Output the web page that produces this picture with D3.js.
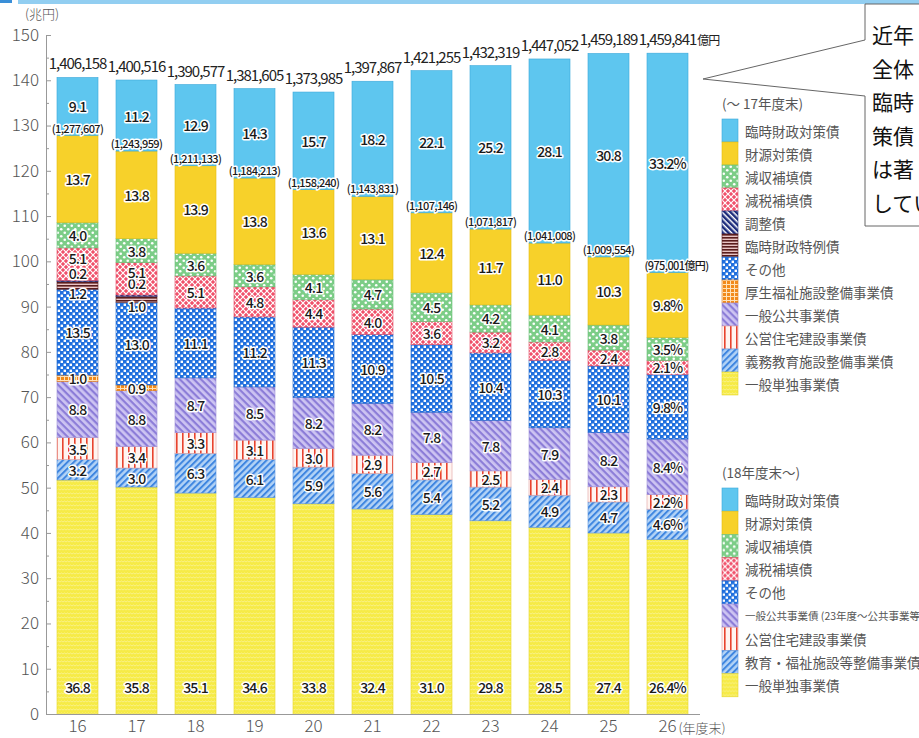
<!DOCTYPE html>
<html>
<head>
<meta charset="utf-8">
<script src="https://cdn.jsdelivr.net/npm/d3@7"></script>
<style>
body { margin: 0; background: #fff; }
svg { display: block; font-family: "Noto Sans CJK JP", "Noto Sans", sans-serif; }
.val { fill: #1a1a1a; stroke: #fff; stroke-width: 3px; stroke-linejoin: round; paint-order: stroke; font-weight: 500; }
.tk text { font-family: "Noto Sans CJK JP", sans-serif; font-weight: 300; fill: #555; font-size: 17px; }
</style>
</head>
<body>
<svg width="919" height="738"></svg>
<script>
// 年度末 (平成)
var years = ["16", "17", "18", "19", "20", "21", "22", "23", "24", "25", "26"];

// 地方債残高 合計 (億円)
var totals = [1406158, 1400516, 1390577, 1381605, 1373985, 1397867, 1421255, 1432319, 1447052, 1459189, 1459841];
// 臨時財政対策債を除いた残高 (億円)
var exclRinzai = [1277607, 1243959, 1211133, 1184213, 1158240, 1143831, 1107146, 1071817, 1041008, 1009554, 975001];

// 構成比 (%)
var tandoku = [36.8, 35.8, 35.1, 34.6, 33.8, 32.4, 31.0, 29.8, 28.5, 27.4, 26.4];
var kyoiku  = [3.2, 3.0, 6.3, 6.1, 5.9, 5.6, 5.4, 5.2, 4.9, 4.7, 4.6];
var koei    = [3.5, 3.4, 3.3, 3.1, 3.0, 2.9, 2.7, 2.5, 2.4, 2.3, 2.2];
var kokyo   = [8.8, 8.8, 8.7, 8.5, 8.2, 8.2, 7.8, 7.8, 7.9, 8.2, 8.4];
var kosei   = [1.0, 0.9, null, null, null, null, null, null, null, null, null];
var sonota  = [13.5, 13.0, 11.1, 11.2, 11.3, 10.9, 10.5, 10.4, 10.3, 10.1, 9.8];
var tokurei = [1.2, 1.0, null, null, null, null, null, null, null, null, null];
var chosei  = [0.2, 0.2, null, null, null, null, null, null, null, null, null];
var genzei  = [5.1, 5.1, 5.1, 4.8, 4.4, 4.0, 3.6, 3.2, 2.8, 2.4, 2.1];
var genshu  = [4.0, 3.8, 3.6, 3.6, 4.1, 4.7, 4.5, 4.2, 4.1, 3.8, 3.5];
var zaigen  = [13.7, 13.8, 13.9, 13.8, 13.6, 13.1, 12.4, 11.7, 11.0, 10.3, 9.8];
var rinzai  = [9.1, 11.2, 12.9, 14.3, 15.7, 18.2, 22.1, 25.2, 28.1, 30.8, 33.2];

var yTicks = [0, 10, 20, 30, 40, 50, 60, 70, 80, 90, 100, 110, 120, 130, 140, 150];

var legendOld = [
  ["rinzai", "臨時財政対策債"], ["zaigen", "財源対策債"], ["genshu", "減収補填債"],
  ["genzei", "減税補填債"], ["chosei", "調整債"], ["tokurei", "臨時財政特例債"],
  ["sonota", "その他"], ["kosei", "厚生福祉施設整備事業債"], ["kokyo", "一般公共事業債"],
  ["koei", "公営住宅建設事業債"], ["kyoiku", "義務教育施設整備事業債"], ["tandoku", "一般単独事業債"]
];
var legendNew = [
  ["rinzai", "臨時財政対策債"], ["zaigen", "財源対策債"], ["genshu", "減収補填債"],
  ["genzei", "減税補填債"], ["sonota", "その他"], ["kokyo", "一般公共事業債 (23年度～公共事業等債)"],
  ["koei", "公営住宅建設事業債"], ["kyoiku", "教育・福祉施設等整備事業債"], ["tandoku", "一般単独事業債"]
];

var calloutLines = ["近年", "全体", "臨時", "策債", "は著", "してい"];

var series = {
  tandoku: tandoku, kyoiku: kyoiku, koei: koei, kokyo: kokyo, kosei: kosei, sonota: sonota,
  tokurei: tokurei, chosei: chosei, genzei: genzei, genshu: genshu, zaigen: zaigen, rinzai: rinzai
};
var keys = ["tandoku", "kyoiku", "koei", "kokyo", "kosei", "sonota", "tokurei", "chosei", "genzei", "genshu", "zaigen", "rinzai"];

var edge = {
  tandoku: "#e6d630", kyoiku: "#5b93dc", koei: "#e0a0a0", kokyo: "#9d90d8", kosei: "#e07d18",
  sonota: "#1d63c8", tokurei: "#5a1d1d", chosei: "#1d2c7c", genzei: "#e04a63", genshu: "#6cbf79",
  zaigen: "#e3bd12", rinzai: "#3aa8da"
};

// label nudges for the thin segments of 16/17
var nudge = { "16:genzei": -6, "16:chosei": -8, "16:tokurei": 8, "17:genzei": -7, "17:chosei": -13, "17:tokurei": 7 };

var svg = d3.select("svg");
var defs = svg.append("defs");

function pattern(id, w, h, bg, rot) {
  var p = defs.append("pattern").attr("id", "p-" + id)
    .attr("patternUnits", "userSpaceOnUse").attr("width", w).attr("height", h);
  if (rot) p.attr("patternTransform", "rotate(" + rot + ")");
  p.append("rect").attr("width", w).attr("height", h).attr("fill", bg);
  return p;
}

pattern("rinzai", 4, 4, "#5ec6ef");
pattern("zaigen", 4, 4, "#f7d12a");
var pg = pattern("genshu", 7, 7, "#7ccd87");
pg.append("circle").attr("cx", 1.75).attr("cy", 1.75).attr("r", 1.3).attr("fill", "#fff");
pg.append("circle").attr("cx", 5.25).attr("cy", 5.25).attr("r", 1.3).attr("fill", "#fff");
var pr = pattern("genzei", 6, 6, "#f0506a");
pr.append("path").attr("d", "M0,0L6,6M6,0L0,6").attr("stroke", "#fff").attr("stroke-width", 1.2);
var pc = pattern("chosei", 4, 4, "#1d2c7c", 45);
pc.append("rect").attr("width", 4).attr("height", 1.5).attr("fill", "#fff");
var pt = pattern("tokurei", 3, 3, "#e9c4c4");
pt.append("rect").attr("width", 3).attr("height", 1.6).attr("fill", "#5a1d1d");
var ps = pattern("sonota", 6, 6, "#1f6fde");
ps.append("rect").attr("x", 0.6).attr("y", 0.6).attr("width", 2.4).attr("height", 2.4).attr("fill", "#fff");
ps.append("rect").attr("x", 3.6).attr("y", 3.6).attr("width", 2.4).attr("height", 2.4).attr("fill", "#fff");
var pk = pattern("kosei", 4, 4, "#f28a1a");
pk.append("path").attr("d", "M0,0.5H4M0.5,0V4").attr("stroke", "#ffe2b8").attr("stroke-width", 1);
var pp = pattern("kokyo", 5, 5, "#cdc4f2", 45);
pp.append("rect").attr("width", 5).attr("height", 2.2).attr("fill", "#8c7dd8");
var pu = pattern("koei", 6, 6, "#fff4f0");
pu.append("rect").attr("x", 2).attr("width", 1.6).attr("height", 6).attr("fill", "#e8432e");
var pe = pattern("kyoiku", 4.5, 4.5, "#b3d3f6", -45);
pe.append("rect").attr("width", 4.5).attr("height", 2).attr("fill", "#3f86e0");
var py = pattern("tandoku", 6, 4, "#f6eb46");
py.append("path").attr("d", "M0,2L1.5,1L3,2L4.5,1L6,2").attr("fill", "none").attr("stroke", "#fbf3a2").attr("stroke-width", 0.7);

// top banner strip
svg.append("rect").attr("x", 0).attr("y", 0).attr("width", 12).attr("height", 3).attr("fill", "#3a8fd8");
svg.append("rect").attr("x", 18).attr("y", 0).attr("width", 901).attr("height", 4).attr("fill", "#92cef1");

var x = d3.scaleBand().domain(years).range([48, 697]).paddingInner(0.305).paddingOuter(0.1525);
var y = d3.scaleLinear().domain([0, 150]).range([714, 35]);
var bw = x.bandwidth();

var rows = years.map(function(yr, i) {
  var sum = d3.sum(keys, function(k) { return series[k][i] || 0; });
  var row = { year: yr, i: i };
  keys.forEach(function(k) {
    row[k] = series[k][i] == null ? 0 : totals[i] / 1e4 * series[k][i] / sum;
  });
  return row;
});

var stacked = d3.stack().keys(keys)(rows);

// flat list of the segments that exist
var segs = [];
stacked.forEach(function(s) {
  s.forEach(function(d) {
    if (series[s.key][d.data.i] != null) segs.push({ key: s.key, y0: d[0], y1: d[1], year: d.data.year, i: d.data.i });
  });
});

svg.append("g").selectAll("rect")
  .data(segs)
  .enter().append("rect")
  .attr("x", function(d) { return x(d.year); })
  .attr("y", function(d) { return y(d.y1); })
  .attr("width", bw)
  .attr("height", function(d) { return y(d.y0) - y(d.y1); })
  .attr("fill", function(d) { return "url(#p-" + d.key + ")"; })
  .attr("stroke", function(d) { return edge[d.key]; })
  .attr("stroke-width", 0.6);

// axes
svg.append("g").attr("class", "tk").attr("transform", "translate(46,0)")
  .call(d3.axisLeft(y).tickValues(yTicks).tickSize(-5).tickSizeOuter(0).tickPadding(7));
svg.append("g").attr("transform", "translate(46,0)")
  .call(d3.axisLeft(y).tickValues(d3.range(5, 150, 10)).tickSize(-3).tickFormat(""))
  .select(".domain").remove();
svg.selectAll(".domain, .tick line").attr("stroke", "#999");

var xAxis = svg.append("g").attr("class", "tk").attr("transform", "translate(0,714)")
  .call(d3.axisBottom(x).tickSize(0).tickPadding(6));
xAxis.select(".domain").attr("d", "M46,0.5H700").attr("stroke", "#999");

svg.append("text").attr("x", x("26") + bw / 2 + 11).attr("y", 733)
  .attr("font-size", 13).attr("font-weight", 300).attr("fill", "#555").text("(年度末)");
svg.append("text").attr("x", 25).attr("y", 19)
  .attr("font-size", 13).attr("font-weight", 300).attr("fill", "#555").text("(兆円)");

// segment labels
var fmt1 = d3.format(".1f");
svg.append("g").selectAll("text")
  .data(segs)
  .enter().append("text")
  .attr("class", "val")
  .attr("x", function(d) { return x(d.year) + bw / 2; })
  .attr("y", function(d) {
    if (d.key === "tandoku") return y(0) - 27;
    return (y(d.y0) + y(d.y1)) / 2 + (nudge[d.year + ":" + d.key] || 0);
  })
  .attr("text-anchor", "middle")
  .attr("dominant-baseline", "central")
  .attr("font-size", 14)
  .attr("letter-spacing", -0.9)
  .text(function(d) { return fmt1(series[d.key][d.i]) + (d.i === years.length - 1 ? "%" : ""); });

// totals
var fmtC = d3.format(",");
var totLbl = svg.append("g").selectAll("text")
  .data(rows)
  .enter().append("text")
  .attr("x", function(d) { return x(d.year) + bw / 2; })
  .attr("y", function(d) { return y(totals[d.i] / 1e4) - 8; })
  .attr("text-anchor", "middle")
  .attr("font-size", 15)
  .attr("letter-spacing", -1)
  .attr("fill", "#222")
  .text(function(d) { return fmtC(totals[d.i]); });

var lastNode = totLbl.nodes()[years.length - 1];
var lastW = lastNode.getComputedTextLength();
svg.append("text")
  .attr("x", x("26") + bw / 2 + lastW / 2 + 1)
  .attr("y", y(totals[years.length - 1] / 1e4) - 8)
  .attr("font-size", 12).attr("letter-spacing", -1).attr("fill", "#222").text("億円");

// totals excluding 臨時財政対策債
svg.append("g").selectAll("text")
  .data(rows)
  .enter().append("text")
  .attr("class", "val")
  .attr("x", function(d) { return x(d.year) + bw / 2 + (d.i === years.length - 1 ? 9 : 0); })
  .attr("y", function(d) { return y(exclRinzai[d.i] / 1e4) - 3; })
  .attr("text-anchor", "middle")
  .attr("font-size", 11)
  .attr("font-weight", 400)
  .attr("letter-spacing", -0.6)
  .text(function(d) { return "(" + fmtC(exclRinzai[d.i]) + (d.i === years.length - 1 ? "億円" : "") + ")"; });

// legends
function legend(items, top, rowH, title, titleY) {
  var g = svg.append("g");
  g.append("text").attr("x", 722).attr("y", titleY).attr("dominant-baseline", "central")
    .attr("font-size", 13.5).attr("fill", "#555").text(title);
  var it = g.selectAll("g").data(items).enter().append("g")
    .attr("transform", function(d, i) { return "translate(722," + (top + i * rowH) + ")"; });
  it.append("rect").attr("width", 16).attr("height", rowH)
    .attr("fill", function(d) { return "url(#p-" + d[0] + ")"; })
    .attr("stroke", function(d) { return edge[d[0]]; }).attr("stroke-width", 0.6);
  it.append("text").attr("x", 23).attr("y", rowH / 2).attr("dominant-baseline", "central")
    .attr("font-size", function(d) { return d[1].length > 16 ? 10.5 : 13.5; })
    .attr("fill", "#555")
    .text(function(d) { return d[1]; });
}
legend(legendOld, 119, 23, "(～ 17年度末)", 103);
legend(legendNew, 488, 23.2, "(18年度末～)", 472);

// callout
svg.append("path")
  .attr("d", "M925,4H865V40L703,79L865,96V226H925")
  .attr("fill", "#fff").attr("stroke", "#666").attr("stroke-width", 1);
svg.append("g").selectAll("text")
  .data(calloutLines)
  .enter().append("text")
  .attr("x", 872)
  .attr("y", function(d, i) { return 34 + i * 33.5; })
  .attr("dominant-baseline", "central")
  .attr("font-size", 21)
  .attr("fill", "#111")
  .text(function(d) { return d; });
</script>
</body>
</html>
